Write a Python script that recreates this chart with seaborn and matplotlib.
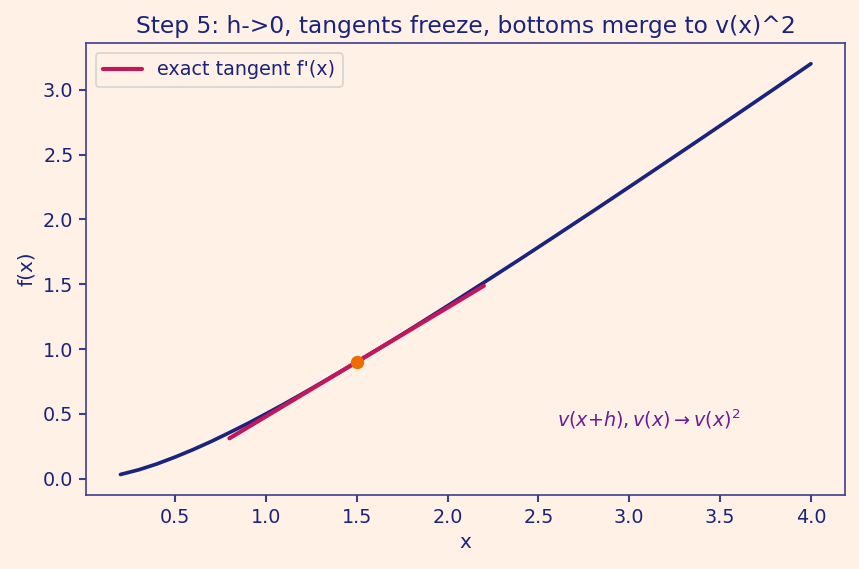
import matplotlib
matplotlib.use('Agg')
import numpy as np
import pandas as pd
import matplotlib.pyplot as plt
import seaborn as sns

# curve points
curve_x = [0.2, 0.3, 0.4, 0.5, 0.6, 0.7, 0.8, 0.9, 1.0, 1.1, 1.2, 1.3, 1.4, 1.5, 1.6, 1.7, 1.8, 1.9,
           2.0, 2.2, 2.4, 2.6, 2.8, 3.0, 3.2, 3.4, 3.6, 3.8, 4.0]
curve_y = [0.033, 0.069, 0.114, 0.167, 0.225, 0.288, 0.356, 0.426, 0.500, 0.576, 0.655, 0.735, 0.817,
           0.900, 0.985, 1.070, 1.157, 1.245, 1.333, 1.513, 1.694, 1.878, 2.063, 2.250, 2.438, 2.627,
           2.817, 3.008, 3.200]

# tangent segment at x0
tan_x = [0.8, 2.2]
tan_y = [0.312, 1.488]
x0, y0 = 1.5, 0.9

bg = '#fff1e6'
navy = '#1a237e'
edge = '#3d3d8f'
sns.set_theme(style='white', rc={'figure.facecolor': bg, 'axes.facecolor': bg,
                                 'axes.edgecolor': edge, 'text.color': navy,
                                 'axes.labelcolor': navy, 'xtick.color': navy,
                                 'ytick.color': navy})
plt.rcParams['font.family'] = ['DejaVu Sans']

curve = pd.DataFrame({'x': curve_x, 'y': curve_y})
tang = pd.DataFrame({'x': tan_x, 'y': tan_y})

fig, ax = plt.subplots(figsize=(7.16, 4.742), dpi=120)
sns.lineplot(data=curve, x='x', y='y', color=navy, lw=2.2, ax=ax)
sns.lineplot(data=tang, x='x', y='y', color='#c2185b', lw=2.5, label="exact tangent f'(x)", ax=ax)
ax.plot([x0], [y0], 'o', color='#ef6c00', ms=7, zorder=5)

ax.text(2.6, 0.4, r'$v(x{+}h), v(x) \to v(x)^2$', color='#6a1b9a', fontsize=11.5)

ax.set_title('Step 5: h->0, tangents freeze, bottoms merge to v(x)^2', fontsize=14, color=navy)
ax.set_xlabel('x', fontsize=12)
ax.set_ylabel('f(x)', fontsize=12)
ax.tick_params(labelsize=11.5, left=True, bottom=True, length=4, color=edge)
for s in ax.spines.values():
    s.set_linewidth(1.0)
leg = ax.legend(loc='upper left', fontsize=11.5, frameon=True)
leg.get_frame().set_facecolor(bg)

fig.subplots_adjust(left=0.100, right=0.984, top=0.924, bottom=0.130)
fig.savefig('out.png', dpi=120, facecolor=bg)
